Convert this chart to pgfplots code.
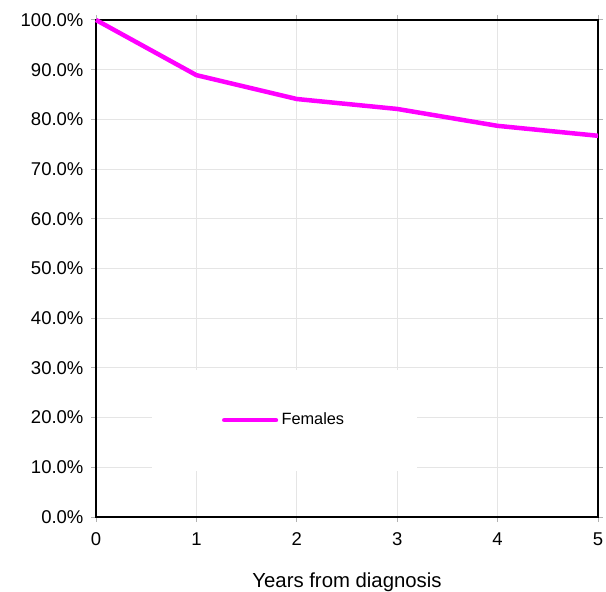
\documentclass[border=0pt]{standalone}
\usepackage{fontspec}
\setmainfont{Liberation Sans}
\usepackage{pgfplots}
\pgfplotsset{compat=1.18}
\definecolor{mag}{RGB}{255,0,255}
\begin{document}
\begin{tikzpicture}
\begin{axis}[
  name=ax,
  scale only axis,
  width=301.2pt, height=298.2pt,
  xmin=0, xmax=5, ymin=0, ymax=100,
  xtick={0,1,2,3,4,5},
  ytick={0,10,20,30,40,50,60,70,80,90,100},
  yticklabels={0.0\%,10.0\%,20.0\%,30.0\%,40.0\%,50.0\%,60.0\%,70.0\%,80.0\%,90.0\%,100.0\%},
  xticklabels={0,1,2,3,4,5},
  tick align=outside,
  major tick length=3pt,
  tick style={gray!60, line width=0.6pt},
  axis line style={black, line width=1.2pt},
  grid=major,
  grid style={gray!20, line width=0.6pt},
  ticklabel style={font=\fontsize{11.1}{12}\selectfont},
  xticklabel style={yshift=-3pt},
  yticklabel style={xshift=-1pt},
  xlabel={Years from diagnosis},
  xlabel style={font=\fontsize{12.2}{13}\selectfont, yshift=-9pt},
  clip=false,
  legend style={at={(axis cs:1.88,19.5)}, anchor=center, draw=none, fill=white,
    inner xsep=42pt, inner ysep=24pt, font=\fontsize{9.8}{12}\selectfont},
  legend image code/.code={\draw[#1, line width=2.7pt, line cap=round] (0pt,0pt) -- (31pt,0pt);},
]
\addplot[mag, line width=2.7pt, line join=round] coordinates {
  (0,100) (1,88.9) (2,84.1) (3,82.1) (4,78.7) (5,76.7)
};
\addlegendentry{Females}
\end{axis}
\pgfresetboundingbox
\path[use as bounding box] ([xshift=-57.6pt,yshift=-44.4pt]ax.south west) rectangle ([xshift=4.8pt,yshift=12pt]ax.north east);
\end{tikzpicture}
\end{document}
